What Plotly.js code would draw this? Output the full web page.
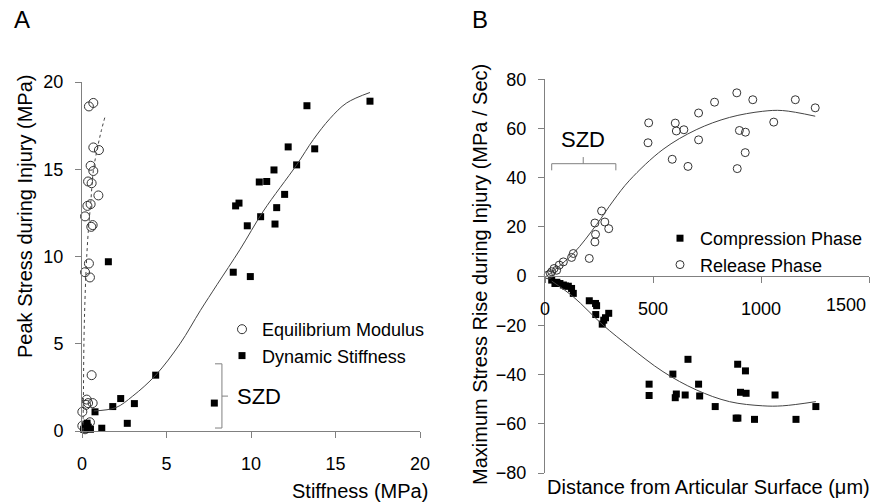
<!DOCTYPE html>
<html><head><meta charset="utf-8">
<script src="https://cdn.plot.ly/plotly-3.0.1.min.js"></script>
<style>html,body{margin:0;padding:0;background:#fff}#chart{width:874px;height:503px}</style>
</head><body><div id="chart"></div>
<script>
// Panel A: Equilibrium Modulus (open circles)
const eqX = [0.41,0.67,0.67,1.0,0.51,0.67,0.36,0.57,0.97,0.32,0.51,0.18,0.63,0.55,0.41,0.18,0.47,0.57,0.28,0.24,0.63,0.36,0.02,0.02,0.47,0.18,0.3];
const eqY = [18.6,18.8,16.25,16.1,15.2,14.9,14.3,14.2,13.5,12.9,13.0,12.3,11.8,11.7,9.6,9.1,8.8,3.2,1.8,1.5,1.6,1.6,1.1,0.3,0.5,0.1,0.3];
// Panel A: Dynamic Stiffness (filled squares)
const dynX = [1.56,0.77,1.82,2.29,3.1,2.68,1.17,4.36,0.1,0.2,0.35,0.5,0.3,7.83,8.95,9.96,9.09,9.29,9.78,10.57,10.49,10.93,11.36,11.52,11.42,11.99,12.2,12.7,13.77,13.31,17.04];
const dynY = [9.7,1.1,1.4,1.86,1.57,0.44,0.16,3.2,0.1,0.3,0.2,0.1,0.45,1.6,9.1,8.85,12.9,13.06,11.76,12.28,14.27,14.3,14.96,12.8,11.86,13.56,16.28,15.25,16.17,18.64,18.9];
// Panel A trend lines
const eqFitX = [0.06,0.08,0.12,0.2,0.28,0.4,0.51,0.67,0.91,1.14,1.36];
const eqFitY = [0,1.6,5.4,8.2,10,11.8,13.0,14.9,16.2,17.2,18.0];
const dynFitX = [0.7,2,3,4.36,5.8,7,8,9.35,10.73,12.7,13.69,14.67,15.66,17.04];
const dynFitY = [1.15,1.34,2.0,3.2,5.0,6.9,8.4,10.4,12.6,15.25,16.7,17.9,18.8,19.4];
// Panel B: Release Phase (open circles)
const relX = [888,962,1159,785,1251,711,480,603,1059,608,643,900,928,477,711,927,589,662,890,262,231,277,295,234,231,205,131,123,85,66,42,31,54,15,25];
const relY = [74.5,71.7,71.7,70.7,68.4,66.3,62.3,62.2,62.6,59.0,59.5,59.2,58.5,54.2,55.4,50.2,47.5,44.6,43.7,26.5,21.6,22.0,19.3,17.0,13.9,7.2,9.2,7.6,5.8,4.5,3.1,1.8,2.4,0.5,1.0];
// Panel B: Compression Phase (filled squares)
const cmpX = [31,46,69,85,108,123,131,55,95,205,234,239,235,295,280,272,265,662,892,928,592,482,711,482,608,603,649,716,905,931,1065,788,1254,885,893,970,1162];
const cmpY = [-1.6,-3.0,-3.0,-3.6,-4.1,-5.0,-7.0,-2.5,-4.0,-10.0,-11.1,-12.0,-15.6,-15.1,-16.9,-17.9,-19.5,-33.8,-35.8,-38.5,-39.8,-43.9,-43.9,-48.5,-47.9,-49.4,-48.3,-48.7,-47.2,-47.6,-48.3,-53.0,-53.0,-57.7,-57.7,-58.2,-58.2];
// Panel B trend lines
const relFitX = [8,131,239,315,392,546,700,854,1008,1100,1251];
const relFitY = [0,9.2,21,30.5,39,51.5,59.5,64.5,67,67.3,65];
const cmpFitX = [31,131,269,392,546,700,854,1008,1100,1254];
const cmpFitY = [-2,-8.4,-19.9,-28.7,-38.8,-46.2,-51,-52.7,-52.7,-51];
// Tick values and labels
const aXTicks = [0,5,10,15,20];
const aYTicks = [0,5,10,15,20];
const bXTicks = [0,500,1000,1500];
const bXLabels = ['0','500','1000','1500'];
const bYTicks = [-80,-60,-40,-20,0,20,40,60,80];

const W=874,H=503;
const px=x=>x/W, py=y=>1-y/H;
const FONT='"Liberation Sans", Arial, sans-serif';
const AX='#808080', MK='#333333', LN='#444444';

const traces = [
  {x:eqX,y:eqY,xaxis:'x',yaxis:'y',type:'scatter',mode:'markers',name:'Equilibrium Modulus',legend:'legend',cliponaxis:false,
   marker:{symbol:'circle-open',size:9,color:MK,line:{width:1,color:MK}}},
  {x:dynX,y:dynY,xaxis:'x',yaxis:'y',type:'scatter',mode:'markers',name:'Dynamic Stiffness',legend:'legend',cliponaxis:false,
   marker:{symbol:'square',size:7,color:'#000'}},
  {x:eqFitX,y:eqFitY,xaxis:'x',yaxis:'y',type:'scatter',mode:'lines',showlegend:false,cliponaxis:false,
   line:{color:LN,width:1,dash:'dot',shape:'spline'}},
  {x:dynFitX,y:dynFitY,xaxis:'x',yaxis:'y',type:'scatter',mode:'lines',showlegend:false,cliponaxis:false,
   line:{color:LN,width:1,shape:'spline'}},
  {x:cmpX,y:cmpY,xaxis:'x2',yaxis:'y2',type:'scatter',mode:'markers',name:'Compression Phase',legend:'legend2',cliponaxis:false,
   marker:{symbol:'square',size:7,color:'#000'}},
  {x:relX,y:relY,xaxis:'x2',yaxis:'y2',type:'scatter',mode:'markers',name:'Release Phase',legend:'legend2',cliponaxis:false,
   marker:{symbol:'circle-open',size:8,color:MK,line:{width:1,color:MK}}},
  {x:relFitX,y:relFitY,xaxis:'x2',yaxis:'y2',type:'scatter',mode:'lines',showlegend:false,cliponaxis:false,
   line:{color:LN,width:1,shape:'spline'}},
  {x:cmpFitX,y:cmpFitY,xaxis:'x2',yaxis:'y2',type:'scatter',mode:'lines',showlegend:false,cliponaxis:false,
   line:{color:LN,width:1,shape:'spline'}}
];

const axCommon = {showgrid:false,zeroline:false,showline:true,linecolor:AX,linewidth:1,ticks:'outside',ticklen:6,tickcolor:AX,
  tickfont:{family:FONT,size:18,color:'#000'},fixedrange:true,automargin:false};

// last B tick label is drawn right-aligned inside the page (as in the reference)
const bXText = bXLabels.map((t,i)=> i===bXLabels.length-1 ? '' : t);

const layout = {
  width:W,height:H,margin:{l:0,r:0,t:0,b:0},paper_bgcolor:'#fff',plot_bgcolor:'rgba(0,0,0,0)',
  font:{family:FONT,color:'#000'},
  xaxis:Object.assign({},axCommon,{domain:[px(82),px(420)],range:[0,20],tickmode:'array',tickvals:aXTicks,anchor:'y',ticklabelstandoff:10}),
  yaxis:Object.assign({},axCommon,{domain:[py(431),py(82)],range:[0,20],tickmode:'array',tickvals:aYTicks,anchor:'x',ticklabelstandoff:8}),
  xaxis2:Object.assign({},axCommon,{domain:[px(545),px(869)],range:[0,1500],tickmode:'array',tickvals:bXTicks,ticktext:bXText,anchor:'free',position:py(276.2),ticklabelstandoff:10}),
  yaxis2:Object.assign({},axCommon,{domain:[py(473),py(79.3)],range:[-80,80],tickmode:'array',tickvals:bYTicks,anchor:'x2',ticklabelstandoff:8}),
  legend:{x:px(222),y:py(311),xanchor:'left',yanchor:'top',bgcolor:'rgba(0,0,0,0)',borderwidth:0,font:{family:FONT,size:18,color:'#000'},itemwidth:30,traceorder:'normal'},
  legend2:{x:px(660),y:py(220),xanchor:'left',yanchor:'top',bgcolor:'rgba(0,0,0,0)',borderwidth:0,font:{family:FONT,size:18,color:'#000'},itemwidth:30,traceorder:'normal'},
  shapes:[
    {type:'path',xref:'x',yref:'y',path:'M 7.87,3.85 L 8.28,3.85 L 8.28,0.17 L 7.87,0.17 M 8.28,2.0 L 8.64,2.0',line:{color:AX,width:1}},
    {type:'path',xref:'x2',yref:'y2',path:'M 31,43 L 31,45.7 L 328,45.7 L 328,43 M 177,45.7 L 177,48.4',line:{color:AX,width:1}}
  ],
  annotations:[
    {text:'A',xref:'paper',yref:'paper',x:px(22),y:py(19),xanchor:'center',yanchor:'middle',showarrow:false,font:{family:FONT,size:24}},
    {text:'B',xref:'paper',yref:'paper',x:px(480),y:py(19),xanchor:'center',yanchor:'middle',showarrow:false,font:{family:FONT,size:24}},
    {text:'SZD',xref:'x',yref:'y',x:9.05,y:1.95,xanchor:'left',yanchor:'middle',showarrow:false,font:{family:FONT,size:22}},
    {text:'SZD',xref:'x2',yref:'y2',x:177,y:55.4,xanchor:'center',yanchor:'middle',showarrow:false,font:{family:FONT,size:22}},
    {text:bXLabels[bXLabels.length-1],xref:'paper',yref:'paper',x:px(868),y:py(305),xanchor:'right',yanchor:'middle',showarrow:false,font:{family:FONT,size:18}},
    {text:'Peak Stress during Injury (MPa)',xref:'paper',yref:'paper',x:px(25),y:py(217),xanchor:'center',yanchor:'middle',textangle:-90,showarrow:false,font:{family:FONT,size:20}},
    {text:'Stiffness (MPa)',xref:'paper',yref:'paper',x:px(430),y:py(491),xanchor:'right',yanchor:'middle',showarrow:false,font:{family:FONT,size:20}},
    {text:'Maximum Stress Rise during Injury (MPa / Sec)',xref:'paper',yref:'paper',x:px(480),y:py(275),xanchor:'center',yanchor:'middle',textangle:-90,showarrow:false,font:{family:FONT,size:20}},
    {text:'Distance from Articular Surface (μm)',xref:'paper',yref:'paper',x:px(708),y:py(487),xanchor:'center',yanchor:'middle',showarrow:false,font:{family:FONT,size:20}}
  ]
};
Plotly.newPlot('chart',traces,layout,{staticPlot:true,displayModeBar:false});
</script></body></html>
